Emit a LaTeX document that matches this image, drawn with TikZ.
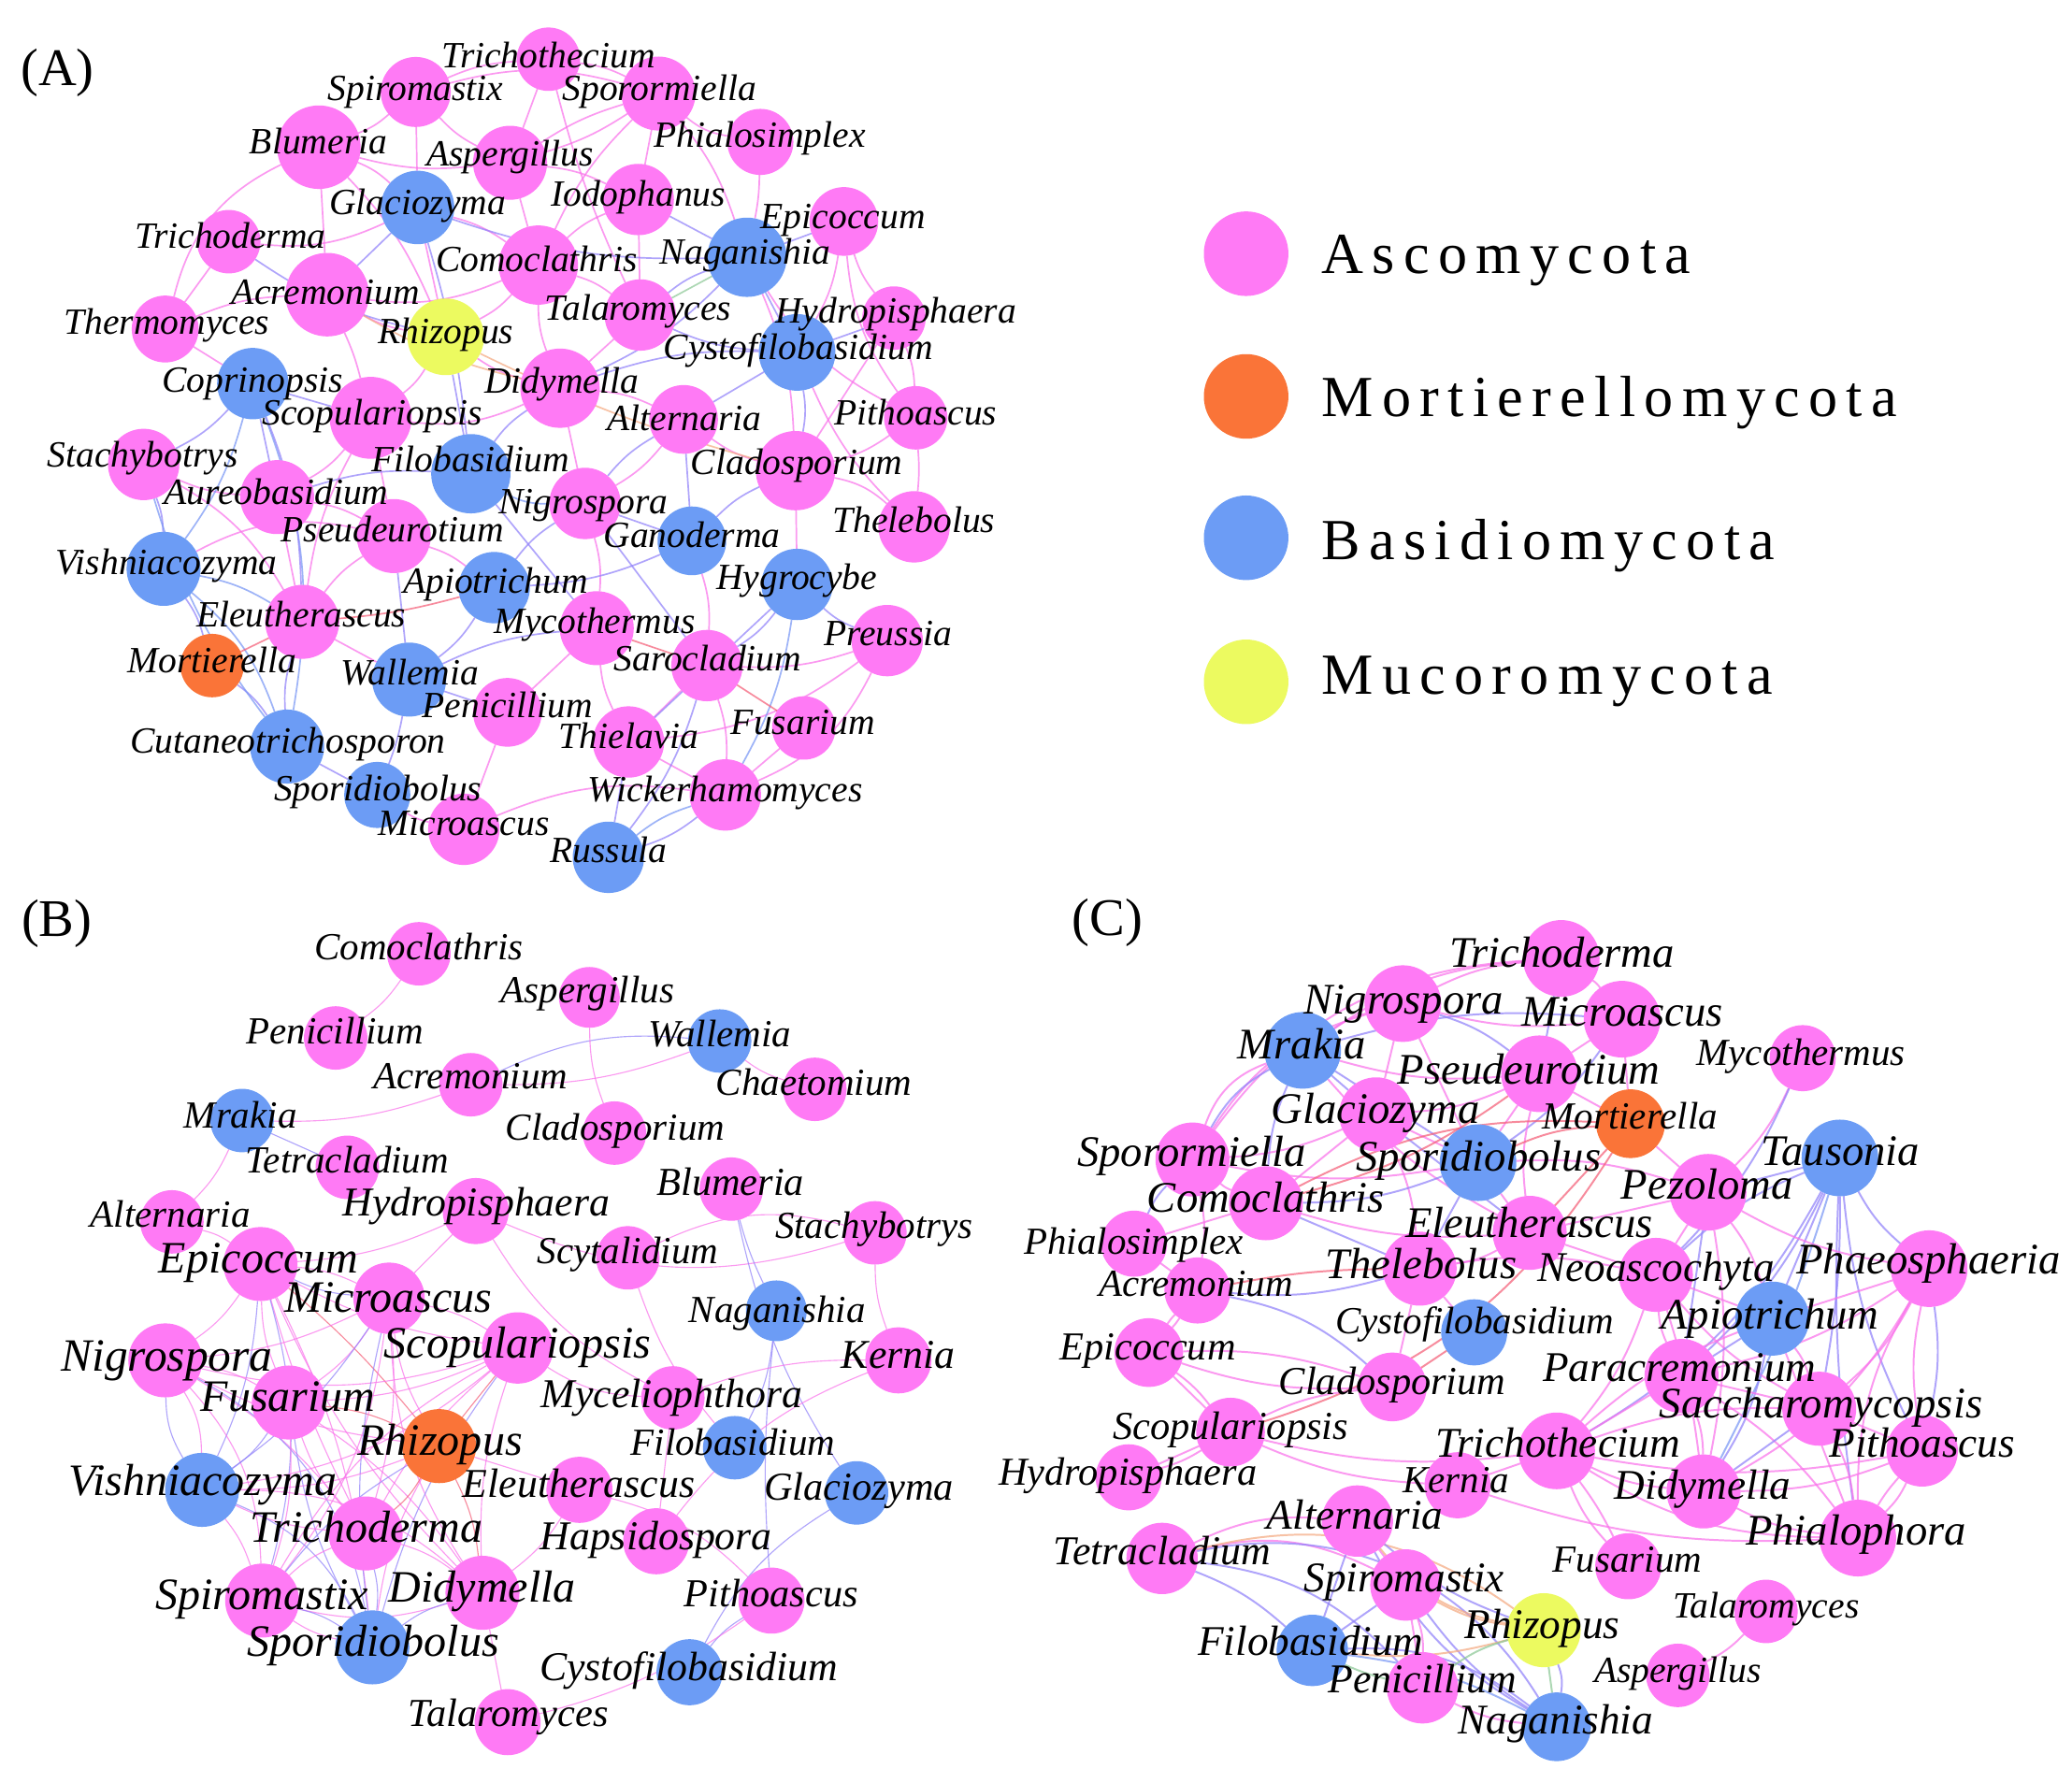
\documentclass[tikz,border=0pt]{standalone}
\usepackage{fontspec}
\setmainfont{Liberation Serif}
\newfontfamily\legfont[LetterSpace=15]{Liberation Serif}
\definecolor{cP}{RGB}{255,122,245}
\definecolor{cB}{RGB}{108,156,245}
\definecolor{cO}{RGB}{250,116,56}
\definecolor{cY}{RGB}{236,250,96}
\definecolor{lP}{RGB}{250,115,235}
\definecolor{lB}{RGB}{145,130,250}
\definecolor{lR}{RGB}{245,95,120}
\definecolor{lO}{RGB}{245,170,130}
\definecolor{lG}{RGB}{140,200,150}
\definecolor{lV}{RGB}{120,150,245}
\pgfdeclarelayer{back}\pgfdeclarelayer{edges}\pgfdeclarelayer{fg}
\pgfsetlayers{back,edges,main,fg}
\tikzset{
  nodec/.style={circle,draw=none,inner sep=0pt,outer sep=0pt},
  lab/.style={inner sep=0pt,anchor=base,text=black},
  e/.style={draw=l#1,opacity=.72},
}
\newcommand{\nd}[9]{%
  \node[nodec,fill=#5,minimum size=#4*2pt] (#1) at (#2,#3) {};%
  \begin{pgfonlayer}{fg}\node[lab,font=\fontsize{#8}{#8}\selectfont\itshape,yshift=-0.27*#8pt] at (#6,#7) {#9};\end{pgfonlayer}}
\begin{document}
\begin{tikzpicture}[x=1pt,y=-1pt]
\useasboundingbox (0,0) rectangle (1568,1349);
\begin{pgfonlayer}{back}\fill[white] (0,0) rectangle (1568,1349);\end{pgfonlayer}
% ---------------- Panel A ----------------
\nd{aTrichothecium}{415}{44.8}{24}{cP}{415}{43.7}{28}{Trichothecium}
\nd{aSpiromastix}{314.6}{69.6}{26.5}{cP}{314.6}{68.4}{28}{Spiromastix}
\nd{aSporormiella}{498.3}{70.8}{28}{cP}{499}{68.4}{28}{Sporormiella}
\nd{aBlumeria}{241.3}{111.4}{31.6}{cP}{241}{108.6}{28}{Blumeria}
\nd{aAspergillus}{386}{123.2}{28}{cP}{386}{118}{28}{Aspergillus}
\nd{aPhialosimplex}{575.4}{107.4}{25}{cP}{575}{103.8}{28}{Phialosimplex}
\nd{aGlaciozyma}{316}{157}{27.8}{cB}{316}{154.6}{28}{Glaciozyma}
\nd{aIodophanus}{483}{151}{27}{cP}{483}{148.7}{28}{Iodophanus}
\nd{aEpicoccum}{638.6}{167.6}{26}{cP}{638}{165.2}{28}{Epicoccum}
\nd{aTrichoderma}{173.1}{182.9}{24}{cP}{174.4}{180.5}{28}{Trichoderma}
\nd{aComoclathris}{407.4}{200.6}{30}{cP}{406}{198.2}{28}{Comoclathris}
\nd{aNaganishia}{565.3}{194.7}{30}{cB}{564}{192.3}{28}{Naganishia}
\nd{aAcremonium}{247.6}{223}{31.6}{cP}{246.4}{223}{28}{Acremonium}
\nd{aTalaromyces}{484.5}{238.4}{27}{cP}{483}{234.8}{28}{Talaromyces}
\nd{aHydropisphaera}{676.5}{240.7}{24}{cP}{678}{237.2}{28}{Hydropisphaera}
\nd{aThermomyces}{125}{249}{25.3}{cP}{126.3}{245.4}{28}{Thermomyces}
\nd{aRhizopus}{337.3}{254.9}{29}{cY}{337.3}{252.5}{28}{Rhizopus}
\nd{aCystofilobasidium}{603.2}{266.7}{29}{cB}{604}{264.3}{28}{Cystofilobasidium}
\nd{aCoprinopsis}{191.3}{290.3}{27}{cB}{191.3}{289}{28}{Coprinopsis}
\nd{aDidymella}{423.8}{293.8}{30}{cP}{425}{290.3}{28}{Didymella}
\nd{aScopulariopsis}{280.5}{316.2}{31}{cP}{281.8}{313.9}{28}{Scopulariopsis}
\nd{aAlternaria}{517.3}{317.4}{26}{cP}{518}{318.6}{28}{Alternaria}
\nd{aPithoascus}{693}{316.2}{24}{cP}{693}{313.9}{28}{Pithoascus}
\nd{aStachybotrys}{108.7}{351.5}{27}{cP}{108}{345.6}{28}{Stachybotrys}
\nd{aFilobasidium}{356.3}{358.5}{30}{cB}{356}{349.1}{28}{Filobasidium}
\nd{aCladosporium}{602}{356.2}{30}{cP}{603}{351.5}{28}{Cladosporium}
\nd{aAureobasidium}{209.7}{376.2}{28}{cP}{209}{373.9}{28}{Aureobasidium}
\nd{aNigrospora}{442.7}{381}{27}{cP}{441.5}{381}{28}{Nigrospora}
\nd{aThelebolus}{691.7}{398.7}{27}{cP}{691.6}{395.1}{28}{Thelebolus}
\nd{aPseudeurotium}{298}{405.7}{28}{cP}{297}{402.2}{28}{Pseudeurotium}
\nd{aGanoderma}{523.6}{409.3}{26}{cB}{523.7}{406.9}{28}{Ganoderma}
\nd{aVishniacozyma}{123.8}{430.5}{28}{cB}{126}{427}{28}{Vishniacozyma}
\nd{aHygrocybe}{603.2}{442.3}{27}{cB}{603}{438.8}{28}{Hygrocybe}
\nd{aApiotrichum}{374}{444.7}{27}{cB}{375}{441.1}{28}{Apiotrichum}
\nd{aEleutherascus}{228.7}{470.6}{28}{cP}{228}{467.1}{28}{Eleutherascus}
\nd{aMycothermus}{451.6}{475.4}{28}{cP}{450}{471.8}{28}{Mycothermus}
\nd{aPreussia}{671.4}{484.8}{27}{cP}{672}{481.3}{28}{Preussia}
\nd{aMortierella}{160.5}{503.7}{24}{cO}{160.5}{501.3}{28}{Mortierella}
\nd{aSarocladium}{535}{503.7}{27}{cP}{535.6}{500.1}{28}{Sarocladium}
\nd{aWallemia}{309.6}{514.3}{28}{cB}{310}{510.8}{28}{Wallemia}
\nd{aPenicillium}{384}{539.1}{26}{cP}{384}{535.5}{28}{Penicillium}
\nd{aFusarium}{608.3}{550.9}{24}{cP}{607.7}{548.5}{28}{Fusarium}
\nd{aThielavia}{475.6}{561.5}{27}{cP}{476}{559.1}{28}{Thielavia}
\nd{aCutaneotrichosporon}{217.3}{565}{28}{cB}{218}{562.7}{28}{Cutaneotrichosporon}
\nd{aSporidiobolus}{285.5}{601.6}{25}{cB}{286}{598.3}{28}{Sporidiobolus}
\nd{aWickerhamomyces}{548.9}{601.6}{27}{cP}{548.8}{599.3}{28}{Wickerhamomyces}
\nd{aMicroascus}{351}{627.6}{27}{cP}{351}{624.5}{28}{Microascus}
\nd{aRussula}{460.4}{648.8}{27}{cB}{460.6}{645.3}{28}{Russula}
% ---------------- Panel B ----------------
\nd{bComoclathris}{317}{721.8}{24}{cP}{317}{718.2}{29}{Comoclathris}
\nd{bAspergillus}{446}{754.8}{23}{cP}{444.7}{751.3}{29}{Aspergillus}
\nd{bPenicillium}{254}{785.5}{24}{cP}{253.4}{782}{29}{Penicillium}
\nd{bWallemia}{544.6}{787.8}{24}{cB}{544.6}{784.3}{29}{Wallemia}
\nd{bAcremonium}{356.3}{820.9}{24}{cP}{356}{816.2}{29}{Acremonium}
\nd{bChaetomium}{616.6}{824.4}{24}{cP}{616}{820.9}{29}{Chaetomium}
\nd{bMrakia}{183.2}{848}{24}{cB}{182}{845.7}{29}{Mrakia}
\nd{bCladosporium}{465}{857.5}{24}{cP}{465.6}{855.1}{29}{Cladosporium}
\nd{bTetracladium}{262.8}{883.4}{24}{cP}{262.8}{879.9}{29}{Tetracladium}
\nd{bBlumeria}{553.4}{899.9}{24}{cP}{552.8}{896.4}{30}{Blumeria}
\nd{bAlternaria}{130.1}{924.7}{24}{cP}{128.9}{921.2}{29}{Alternaria}
\nd{bHydropisphaera}{360}{916.5}{25}{cP}{360.5}{911.7}{31}{Hydropisphaera}
\nd{bStachybotrys}{662.1}{933}{24}{cP}{661.5}{929.4}{29}{Stachybotrys}
\nd{bScytalidium}{475.1}{951.9}{24}{cP}{475}{948.3}{29}{Scytalidium}
\nd{bEpicoccum}{197.1}{956.6}{28}{cP}{195.8}{954.2}{34}{Epicoccum}
\nd{bMicroascus}{294.4}{982.5}{27}{cP}{293.8}{983.7}{34}{Microascus}
\nd{bNaganishia}{587.5}{992}{23}{cB}{588.2}{993.2}{29}{Naganishia}
\nd{bScopulariopsis}{391.7}{1020.1}{27}{cP}{391.7}{1018.9}{34}{Scopulariopsis}
\nd{bKernia}{679.8}{1029.5}{25}{cP}{679.8}{1027.2}{31}{Kernia}
\nd{bNigrospora}{125.1}{1029.5}{28}{cP}{126.3}{1028.4}{35}{Nigrospora}
\nd{bMyceliophthora}{509.2}{1057.9}{24}{cP}{508.6}{1056.7}{31}{Myceliophthora}
\nd{bFusarium}{218.6}{1061.4}{28}{cP}{218}{1059}{34}{Fusarium}
\nd{bRhizopus}{332.3}{1094.4}{28}{cO}{333}{1092}{34}{Rhizopus}
\nd{bFilobasidium}{556}{1095.6}{24}{cB}{554.7}{1093.3}{29}{Filobasidium}
\nd{bVishniacozyma}{152.9}{1127.5}{28}{cB}{153.5}{1122.8}{34}{Vishniacozyma}
\nd{bEleutherascus}{438.5}{1127.5}{25}{cP}{438}{1125.1}{31}{Eleutherascus}
\nd{bGlaciozyma}{648.2}{1129.8}{24}{cB}{650}{1127.5}{30}{Glaciozyma}
\nd{bTrichoderma}{276.7}{1160.5}{28}{cP}{277.3}{1158.2}{34}{Trichoderma}
\nd{bHapsidospora}{496.6}{1166.4}{25}{cP}{496.5}{1164.1}{31}{Hapsidospora}
\nd{bSpiromastix}{198.4}{1211.3}{28}{cP}{198.4}{1208.9}{34}{Spiromastix}
\nd{bDidymella}{365.1}{1205.4}{28}{cP}{365}{1203}{34}{Didymella}
\nd{bPithoascus}{583.8}{1211.3}{25}{cP}{583.7}{1207.7}{30}{Pithoascus}
\nd{bSporidiobolus}{281.8}{1246.7}{28}{cB}{282.4}{1244.3}{34}{Sporidiobolus}
\nd{bCystofilobasidium}{521.8}{1265.5}{25}{cB}{521.2}{1263.2}{31}{Cystofilobasidium}
\nd{bTalaromyces}{384.1}{1303.3}{25}{cP}{384.7}{1298.6}{30}{Talaromyces}
% ---------------- Panel C ----------------
\nd{cTrichoderma}{1181.5}{725.3}{29}{cP}{1182}{723}{33}{Trichoderma}
\nd{cNigrospora}{1061.6}{759.5}{29}{cP}{1062.3}{758.3}{33}{Nigrospora}
\nd{cMicroascus}{1227.5}{771.3}{29}{cP}{1227.7}{767.8}{33}{Microascus}
\nd{cMrakia}{985.8}{794.9}{29}{cB}{985.2}{792.6}{33}{Mrakia}
\nd{cMycothermus}{1364.2}{800.8}{25}{cP}{1362.9}{798.5}{29}{Mycothermus}
\nd{cPseudeurotium}{1165}{812.6}{29}{cP}{1157}{811.4}{33}{Pseudeurotium}
\nd{cGlaciozyma}{1041.4}{843.3}{28}{cP}{1040.8}{841}{33}{Glaciozyma}
\nd{cMortierella}{1233.9}{850.4}{26}{cO}{1233.5}{846.8}{29}{Mortierella}
\nd{cTausonia}{1392.3}{876.3}{29}{cB}{1392.8}{872.8}{33}{Tausonia}
\nd{cSporidiobolus}{1118.5}{879.9}{29}{cB}{1119}{877.5}{33}{Sporidiobolus}
\nd{cSporormiella}{902.4}{877.5}{28}{cP}{901.7}{874}{33}{Sporormiella}
\nd{cPezoloma}{1292.6}{902.3}{29}{cP}{1292}{898.8}{33}{Pezoloma}
\nd{cComoclathris}{958}{910.6}{28}{cP}{958}{908.2}{33}{Comoclathris}
\nd{cEleutherascus}{1157.6}{933}{28}{cP}{1157.3}{927.4}{33}{Eleutherascus}
\nd{cPhialosimplex}{858.2}{941.2}{25}{cP}{858}{941.2}{29}{Phialosimplex}
\nd{cThelebolus}{1074.3}{960.1}{28}{cP}{1075.5}{958.6}{33}{Thelebolus}
\nd{cPhaeosphaeria}{1459.9}{960.1}{29}{cP}{1459.3}{955.4}{33}{Phaeosphaeria}
\nd{cNeoascochyta}{1253.1}{964.8}{28}{cP}{1253.2}{961.3}{32}{Neoascochyta}
\nd{cAcremonium}{906.2}{976.6}{25}{cP}{905}{973.1}{29}{Acremonium}
\nd{cApiotrichum}{1341.2}{997.9}{28}{cB}{1339.3}{996.7}{33}{Apiotrichum}
\nd{cCystofilobasidium}{1115.6}{1008.3}{25}{cB}{1116}{1001.2}{29}{Cystofilobasidium}
\nd{cEpicoccum}{869.3}{1023.6}{26}{cP}{868.6}{1021.3}{30}{Epicoccum}
\nd{cParacremonium}{1272.5}{1041.3}{28}{cP}{1271}{1036.6}{32}{Paracremonium}
\nd{cCladosporium}{1053.7}{1049.6}{26}{cP}{1053.7}{1047.2}{30}{Cladosporium}
\nd{cSaccharomycopsis}{1376.7}{1066.1}{28}{cP}{1378}{1063.8}{33}{Saccharomycopsis}
\nd{cScopulariopsis}{931.2}{1083.8}{26}{cP}{931.2}{1081.5}{30}{Scopulariopsis}
\nd{cTrichothecium}{1178}{1098}{29}{cP}{1179}{1094.4}{32}{Trichothecium}
\nd{cPithoascus}{1454.6}{1098}{27}{cP}{1454.6}{1094.4}{32}{Pithoascus}
\nd{cHydropisphaera}{854.1}{1118}{25}{cP}{853.5}{1115.7}{30}{Hydropisphaera}
\nd{cKernia}{1103}{1124}{25}{cP}{1101.7}{1121.6}{29}{Kernia}
\nd{cDidymella}{1289.2}{1128.7}{28}{cP}{1288.5}{1126.3}{32}{Didymella}
\nd{cAlternaria}{1027.2}{1151.1}{27}{cP}{1025.4}{1148.7}{32}{Alternaria}
\nd{cPhialophora}{1405.9}{1164}{29}{cP}{1404.5}{1160.5}{33}{Phialophora}
\nd{cTetracladium}{879.4}{1179.4}{27}{cP}{879.4}{1175.9}{31}{Tetracladium}
\nd{cFusarium}{1232.2}{1185.3}{25}{cP}{1231.5}{1181.8}{29}{Fusarium}
\nd{cSpiromastix}{1063.9}{1199.5}{27}{cP}{1062.6}{1195.9}{32}{Spiromastix}
\nd{cTalaromyces}{1336.4}{1219.5}{24}{cP}{1336.4}{1217.2}{28}{Talaromyces}
\nd{cRhizopus}{1168.2}{1233.7}{28}{cY}{1167}{1231.3}{32}{Rhizopus}
\nd{cFilobasidium}{993.1}{1249}{27}{cB}{991.9}{1244.3}{32}{Filobasidium}
\nd{cAspergillus}{1269.7}{1267.9}{24}{cP}{1269.7}{1265.5}{28}{Aspergillus}
\nd{cPenicillium}{1076.5}{1277.3}{27}{cP}{1076.5}{1272.6}{31}{Penicillium}
\nd{cNaganishia}{1178}{1306.8}{26}{cB}{1177.3}{1303.3}{32}{Naganishia}
% ---------------- panel letters ----------------
\node[font=\fontsize{40}{40}\selectfont,inner sep=0pt] (labA) at (43.5,55) {(A)};
\node[font=\fontsize{40}{40}\selectfont,inner sep=0pt] (labB) at (43,699) {(B)};
\node[font=\fontsize{40}{40}\selectfont,inner sep=0pt] (labC) at (838,698) {(C)};
% ---------------- legend ----------------
\node[nodec,fill=cP,minimum size=64pt] (legP) at (943,192) {};
\node[nodec,fill=cO,minimum size=64pt] (legO) at (943,300) {};
\node[nodec,fill=cB,minimum size=64pt] (legB) at (943,407) {};
\node[nodec,fill=cY,minimum size=64pt] (legY) at (943,516) {};
\node[anchor=west,inner sep=0pt,font=\legfont\fontsize{44}{44}\selectfont] (legPt) at (1000,197) {Ascomycota};
\node[anchor=west,inner sep=0pt,font=\legfont\fontsize{44}{44}\selectfont] (legOt) at (1000,305) {Mortierellomycota};
\node[anchor=west,inner sep=0pt,font=\legfont\fontsize{44}{44}\selectfont] (legBt) at (1000,413) {Basidiomycota};
\node[anchor=west,inner sep=0pt,font=\legfont\fontsize{44}{44}\selectfont] (legYt) at (1000,516) {Mucoromycota};
% ---------------- edges ----------------
\begin{pgfonlayer}{edges}
\begin{scope}[line width=1.2pt]
\foreach \u/\v/\s/\k in {
aSpiromastix/aBlumeria/P/10, aSpiromastix/aAspergillus/P/-10, aSpiromastix/aTrichothecium/P/10,
aSpiromastix/aGlaciozyma/P/0, aSpiromastix/aSporormiella/P/15, aTrichothecium/aSporormiella/P/10,
aTrichothecium/aTalaromyces/P/-5, aTrichothecium/aAspergillus/P/0, aSporormiella/aAspergillus/P/8,
aSporormiella/aAspergillus/P/-8, aSporormiella/aPhialosimplex/P/-15, aSporormiella/aIodophanus/P/0,
aSporormiella/aComoclathris/P/-10, aSporormiella/aNaganishia/P/10, aBlumeria/aAcremonium/P/0,
aBlumeria/aGlaciozyma/P/10, aBlumeria/aThermomyces/P/-25, aBlumeria/aRhizopus/P/10,
aBlumeria/aAspergillus/P/-10, aTrichoderma/aGlaciozyma/P/-15, aTrichoderma/aThermomyces/P/0,
aThermomyces/aAcremonium/P/10, aThermomyces/aCoprinopsis/P/0, aAcremonium/aScopulariopsis/P/5,
aAcremonium/aRhizopus/P/-10, aAcremonium/aComoclathris/P/-15, aGlaciozyma/aComoclathris/P/10,
aGlaciozyma/aRhizopus/P/0, aAspergillus/aComoclathris/P/0, aAspergillus/aIodophanus/P/10,
aIodophanus/aTalaromyces/P/0, aIodophanus/aComoclathris/P/-10, aComoclathris/aTalaromyces/P/10,
aComoclathris/aDidymella/P/-10, aComoclathris/aRhizopus/P/10, aTalaromyces/aDidymella/P/0,
aPhialosimplex/aNaganishia/P/5, aEpicoccum/aHydropisphaera/P/-10, aEpicoccum/aPithoascus/P/-15,
aEpicoccum/aCystofilobasidium/P/10, aHydropisphaera/aPithoascus/P/10, aHydropisphaera/aCladosporium/P/0,
aRhizopus/aScopulariopsis/P/10, aRhizopus/aDidymella/P/-10, aScopulariopsis/aDidymella/P/-15,
aScopulariopsis/aAureobasidium/P/10, aScopulariopsis/aPseudeurotium/P/0, aScopulariopsis/aEleutherascus/P/-10,
aDidymella/aAlternaria/P/10, aDidymella/aNigrospora/P/0, aAlternaria/aCladosporium/P/-10,
aAlternaria/aNigrospora/P/10, aCladosporium/aThelebolus/P/15, aCladosporium/aPithoascus/P/-10,
aPithoascus/aThelebolus/P/5, aStachybotrys/aAureobasidium/P/-10, aStachybotrys/aEleutherascus/P/15,
aAureobasidium/aPseudeurotium/P/10, aAureobasidium/aEleutherascus/P/0, aVishniacozyma/aPseudeurotium/P/20,
aPseudeurotium/aEleutherascus/P/-10, aNigrospora/aMycothermus/P/10, aMycothermus/aPenicillium/P/0,
aMycothermus/aThielavia/P/-10, aSarocladium/aPreussia/P/-10, aSarocladium/aThielavia/P/0,
aSarocladium/aWickerhamomyces/P/10, aPreussia/aWickerhamomyces/P/20, aPreussia/aThielavia/P/15,
aThielavia/aWickerhamomyces/P/0, aPenicillium/aMicroascus/P/0, aMicroascus/aWickerhamomyces/P/15,
aSporidiobolus/aMicroascus/P/-10, aGanoderma/aSarocladium/P/10, aFusarium/aWickerhamomyces/P/0,
aNaganishia/aCladosporium/P/10, aPseudeurotium/aApiotrichum/P/10, aEleutherascus/aWallemia/P/0,
aThelebolus/aCystofilobasidium/P/10, aNaganishia/aPithoascus/P/-15, aCladosporium/aHygrocybe/P/0,
aGlaciozyma/aFilobasidium/B/5, aGlaciozyma/aNaganishia/B/-10, aGlaciozyma/aAcremonium/B/0,
aTrichoderma/aRhizopus/B/-10, aCoprinopsis/aStachybotrys/B/10, aCoprinopsis/aVishniacozyma/V/10,
aCoprinopsis/aAureobasidium/B/0, aCoprinopsis/aCutaneotrichosporon/V/15, aCoprinopsis/aScopulariopsis/B/0,
aCoprinopsis/aEleutherascus/B/10, aVishniacozyma/aStachybotrys/B/-10, aVishniacozyma/aEleutherascus/V/10,
aVishniacozyma/aMortierella/B/10, aVishniacozyma/aCutaneotrichosporon/V/15, aMortierella/aCutaneotrichosporon/B/10,
aEleutherascus/aCutaneotrichosporon/B/-10, aCutaneotrichosporon/aSporidiobolus/B/0, aWallemia/aMycothermus/B/10,
aWallemia/aSporidiobolus/B/5, aWallemia/aPseudeurotium/B/0, aWallemia/aApiotrichum/B/-10,
aFilobasidium/aNigrospora/V/-15, aFilobasidium/aAureobasidium/B/-10, aFilobasidium/aDidymella/B/10,
aFilobasidium/aRhizopus/B/0, aApiotrichum/aNigrospora/B/10, aApiotrichum/aGanoderma/B/-10,
aGanoderma/aCladosporium/B/10, aGanoderma/aAlternaria/B/0, aGanoderma/aNigrospora/B/0,
aNaganishia/aCystofilobasidium/B/0, aNaganishia/aDidymella/B/10, aNaganishia/aIodophanus/B/0,
aNaganishia/aEpicoccum/B/0, aNaganishia/aTalaromyces/B/-10, aCystofilobasidium/aCladosporium/B/10,
aCystofilobasidium/aAlternaria/B/0, aCystofilobasidium/aHydropisphaera/B/0, aCystofilobasidium/aDidymella/B/-10,
aHygrocybe/aSarocladium/B/10, aHygrocybe/aPreussia/B/-10, aHygrocybe/aWickerhamomyces/V/10,
aHygrocybe/aThielavia/B/0, aRussula/aWickerhamomyces/V/10, aRussula/aWickerhamomyces/B/-10,
aRussula/aThielavia/B/0, aRussula/aSarocladium/B/-10, aTalaromyces/aCystofilobasidium/B/-10,
aStachybotrys/aCutaneotrichosporon/V/-10, aNigrospora/aSarocladium/B/0, aMycothermus/aFilobasidium/B/0,
aPenicillium/aWallemia/B/0, aAlternaria/aNigrospora/B/-10,
aMycothermus/aSarocladium/R/0, aEleutherascus/aApiotrichum/R/-5, aEleutherascus/aMortierella/R/0,
aSarocladium/aFusarium/R/0, aRhizopus/aCladosporium/O/-5, aAcremonium/aDidymella/O/-8, aTalaromyces/aNaganishia/G/0}
  \draw[e=\s] (\u) to[bend left=\k] (\v);
\end{scope}
\begin{scope}[line width=0.8pt]
\foreach \u/\v/\s/\k in {
bComoclathris/bPenicillium/P/10, bMrakia/bAcremonium/P/-10, bAcremonium/bWallemia/P/-10,
bAcremonium/bWallemia/B/15, bAspergillus/bCladosporium/P/-10, bWallemia/bChaetomium/P/-10,
bMrakia/bTetracladium/B/0, bMrakia/bAlternaria/P/10, bHydropisphaera/bStachybotrys/P/-20,
bHydropisphaera/bMyceliophthora/P/-15, bScytalidium/bStachybotrys/P/20, bScytalidium/bFilobasidium/P/-10,
bBlumeria/bNaganishia/B/-5, bBlumeria/bGlaciozyma/B/-10, bNaganishia/bFilobasidium/B/10,
bNaganishia/bPithoascus/B/-5, bStachybotrys/bKernia/P/-10, bKernia/bMyceliophthora/P/-10,
bKernia/bHapsidospora/P/-15, bGlaciozyma/bCystofilobasidium/B/-15, bPithoascus/bCystofilobasidium/B/-10,
bEleutherascus/bPithoascus/P/15, bTalaromyces/bPithoascus/P/-10, bTalaromyces/bDidymella/P/0,
bScopulariopsis/bDidymella/P/-10, bEleutherascus/bDidymella/P/10, bMyceliophthora/bHapsidospora/P/0,
bScopulariopsis/bMyceliophthora/P/-15, bRhizopus/bEleutherascus/P/0, bRhizopus/bDidymella/R/10,
bHydropisphaera/bMicroascus/P/0, bHydropisphaera/bEpicoccum/P/10,
bEpicoccum/bNigrospora/P/10, bEpicoccum/bFusarium/P/-10, bEpicoccum/bMicroascus/P/10,
bEpicoccum/bScopulariopsis/P/-10, bEpicoccum/bRhizopus/R/5, bEpicoccum/bVishniacozyma/B/10,
bEpicoccum/bTrichoderma/P/-5, bEpicoccum/bSpiromastix/B/15, bEpicoccum/bSporidiobolus/P/10,
bEpicoccum/bDidymella/P/-10, bEpicoccum/bAlternaria/P/-10, bNigrospora/bFusarium/P/10,
bNigrospora/bMicroascus/P/-10, bNigrospora/bScopulariopsis/P/-15, bNigrospora/bRhizopus/P/-10,
bNigrospora/bVishniacozyma/B/-15, bNigrospora/bTrichoderma/P/10, bNigrospora/bSpiromastix/P/20,
bNigrospora/bSporidiobolus/B/25, bFusarium/bMicroascus/P/-10, bFusarium/bScopulariopsis/P/-10,
bFusarium/bRhizopus/R/10, bFusarium/bVishniacozyma/B/10, bFusarium/bTrichoderma/P/-10,
bFusarium/bSpiromastix/P/10, bFusarium/bSporidiobolus/B/-10, bFusarium/bDidymella/P/10,
bMicroascus/bScopulariopsis/P/10, bMicroascus/bRhizopus/P/-10, bMicroascus/bVishniacozyma/B/10,
bMicroascus/bTrichoderma/P/10, bMicroascus/bSpiromastix/P/15, bMicroascus/bSporidiobolus/B/-10,
bMicroascus/bDidymella/P/-15, bScopulariopsis/bRhizopus/R/0, bScopulariopsis/bVishniacozyma/P/15,
bScopulariopsis/bTrichoderma/P/-10, bScopulariopsis/bSpiromastix/P/-15, bScopulariopsis/bSporidiobolus/B/-10,
bRhizopus/bVishniacozyma/P/10, bRhizopus/bTrichoderma/R/10, bRhizopus/bSpiromastix/B/-10,
bRhizopus/bSporidiobolus/P/-10, bVishniacozyma/bTrichoderma/P/-10, bVishniacozyma/bSpiromastix/P/10,
bVishniacozyma/bSporidiobolus/B/20, bVishniacozyma/bDidymella/P/20, bTrichoderma/bSpiromastix/P/-10,
bTrichoderma/bSporidiobolus/B/10, bTrichoderma/bDidymella/P/10, bSpiromastix/bSporidiobolus/P/-10,
bSpiromastix/bDidymella/P/-15, bSporidiobolus/bDidymella/B/10, bNigrospora/bVishniacozyma/P/15,
bSpiromastix/bSporidiobolus/B/10, bEpicoccum/bMicroascus/B/-10}
  \draw[e=\s] (\u) to[bend left=\k] (\v);
\end{scope}
\begin{scope}[line width=1.4pt]
\foreach \u/\v/\s/\k in {
cNigrospora/cTrichoderma/P/10, cNigrospora/cMicroascus/P/-10, cNigrospora/cMrakia/P/-10,
cNigrospora/cPseudeurotium/B/10, cNigrospora/cGlaciozyma/P/0, cNigrospora/cSporormiella/P/-20,
cNigrospora/cSporidiobolus/P/0, cTrichoderma/cMicroascus/P/10, cTrichoderma/cMrakia/P/-15,
cTrichoderma/cPseudeurotium/B/0, cTrichoderma/cSporormiella/P/-25, cMicroascus/cPseudeurotium/P/0,
cMicroascus/cMrakia/B/-10, cMicroascus/cSporidiobolus/B/10, cMicroascus/cMortierella/P/0,
cMrakia/cGlaciozyma/B/0, cMrakia/cSporormiella/B/-15, cMrakia/cSporormiella/P/-25,
cMrakia/cComoclathris/B/-10, cMrakia/cSporidiobolus/B/0, cMrakia/cPseudeurotium/P/-10,
cMrakia/cEleutherascus/P/-10, cGlaciozyma/cSporormiella/P/10, cGlaciozyma/cSporidiobolus/P/0,
cGlaciozyma/cComoclathris/P/0, cGlaciozyma/cPseudeurotium/P/-10, cGlaciozyma/cEleutherascus/B/0,
cGlaciozyma/cThelebolus/P/10, cPseudeurotium/cSporidiobolus/P/0, cPseudeurotium/cEleutherascus/P/-10,
cPseudeurotium/cMortierella/P/0, cPseudeurotium/cComoclathris/R/10, cSporormiella/cComoclathris/P/-10,
cSporormiella/cPhialosimplex/B/-10, cSporormiella/cSporidiobolus/P/-10, cSporormiella/cAcremonium/P/10,
cComoclathris/cSporidiobolus/B/-10, cComoclathris/cEleutherascus/P/-10, cComoclathris/cThelebolus/B/0,
cComoclathris/cPhialosimplex/P/0, cSporidiobolus/cEleutherascus/P/0, cSporidiobolus/cThelebolus/B/0,
cSporidiobolus/cMortierella/R/10, cSporidiobolus/cPezoloma/P/10, cEleutherascus/cThelebolus/P/10,
cEleutherascus/cMortierella/R/0, cEleutherascus/cNeoascochyta/P/0, cEleutherascus/cPezoloma/P/0,
cThelebolus/cAcremonium/B/10, cThelebolus/cAcremonium/R/-5, cThelebolus/cCystofilobasidium/P/0,
cThelebolus/cNeoascochyta/P/10, cMortierella/cComoclathris/R/-15, cMortierella/cScopulariopsis/R/20,
cMortierella/cPezoloma/P/0, cPhialosimplex/cAcremonium/P/0, cAcremonium/cEpicoccum/P/5,
cAcremonium/cEpicoccum/P/-5, cAcremonium/cCladosporium/B/15, cMycothermus/cPezoloma/P/10,
cMycothermus/cNeoascochyta/B/10,
cTausonia/cPezoloma/B/0, cTausonia/cApiotrichum/B/0, cTausonia/cNeoascochyta/B/-10,
cTausonia/cPhaeosphaeria/B/-10, cTausonia/cSaccharomycopsis/B/5, cTausonia/cPithoascus/B/-10,
cTausonia/cPhialophora/B/-5, cTausonia/cParacremonium/B/10, cTausonia/cDidymella/V/5,
cTausonia/cTrichothecium/B/15, cPezoloma/cNeoascochyta/P/0, cPezoloma/cApiotrichum/P/10,
cPezoloma/cParacremonium/B/0, cPezoloma/cPhaeosphaeria/P/-10, cPezoloma/cDidymella/P/10,
cNeoascochyta/cApiotrichum/P/0, cNeoascochyta/cParacremonium/P/-10, cNeoascochyta/cTrichothecium/P/10,
cNeoascochyta/cDidymella/P/5, cNeoascochyta/cSaccharomycopsis/P/-10, cApiotrichum/cParacremonium/B/0,
cApiotrichum/cPhaeosphaeria/P/0, cApiotrichum/cSaccharomycopsis/P/10, cApiotrichum/cDidymella/B/10,
cApiotrichum/cPhialophora/P/0, cApiotrichum/cTrichothecium/P/-10, cPhaeosphaeria/cSaccharomycopsis/P/10,
cPhaeosphaeria/cPithoascus/P/-10, cPhaeosphaeria/cPithoascus/B/10, cPhaeosphaeria/cPhialophora/P/-15,
cPhaeosphaeria/cParacremonium/P/10, cPhaeosphaeria/cDidymella/P/15, cParacremonium/cSaccharomycopsis/P/0,
cParacremonium/cTrichothecium/P/0, cParacremonium/cDidymella/P/10, cParacremonium/cPhialophora/P/10,
cSaccharomycopsis/cPithoascus/P/0, cSaccharomycopsis/cPhialophora/P/10, cSaccharomycopsis/cTrichothecium/P/-10,
cSaccharomycopsis/cDidymella/B/0, cTrichothecium/cDidymella/P/-10, cTrichothecium/cPhialophora/P/-15,
cTrichothecium/cPithoascus/P/-10, cTrichothecium/cFusarium/P/-10, cTrichothecium/cFusarium/P/5,
cDidymella/cPhialophora/P/-10, cDidymella/cPithoascus/P/-10, cPithoascus/cPhialophora/P/10,
cPithoascus/cPhialophora/P/-5, cTrichothecium/cScopulariopsis/P/10, cKernia/cScopulariopsis/P/10,
cKernia/cTrichothecium/P/0, cKernia/cPhialophora/P/-10,
cEpicoccum/cScopulariopsis/P/0, cEpicoccum/cScopulariopsis/P/8, cEpicoccum/cCladosporium/P/-10,
cEpicoccum/cCladosporium/P/10, cScopulariopsis/cCladosporium/P/10, cScopulariopsis/cHydropisphaera/P/0,
cScopulariopsis/cHydropisphaera/P/8, cCladosporium/cCystofilobasidium/R/0, cCladosporium/cThelebolus/P/0,
cTetracladium/cAlternaria/P/15, cTetracladium/cSpiromastix/P/20, cTetracladium/cFilobasidium/B/10,
cTetracladium/cPenicillium/B/20, cTetracladium/cRhizopus/O/25, cTetracladium/cNaganishia/B/35,
cAlternaria/cSpiromastix/P/0, cAlternaria/cFilobasidium/B/0, cAlternaria/cRhizopus/O/-20,
cAlternaria/cRhizopus/B/-10, cAlternaria/cNaganishia/B/-15, cSpiromastix/cFilobasidium/B/0,
cSpiromastix/cPenicillium/P/0, cSpiromastix/cPenicillium/P/10, cSpiromastix/cRhizopus/O/-10,
cSpiromastix/cNaganishia/B/-10, cFilobasidium/cPenicillium/G/-5, cFilobasidium/cRhizopus/O/-10,
cFilobasidium/cNaganishia/B/20, cFilobasidium/cNaganishia/V/10, cPenicillium/cNaganishia/P/-10,
cPenicillium/cRhizopus/G/10, cRhizopus/cNaganishia/G/0, cRhizopus/cNaganishia/B/15,
cTalaromyces/cAspergillus/P/10}
  \draw[e=\s] (\u) to[bend left=\k] (\v);
\end{scope}
\end{pgfonlayer}
\end{tikzpicture}
\end{document}
